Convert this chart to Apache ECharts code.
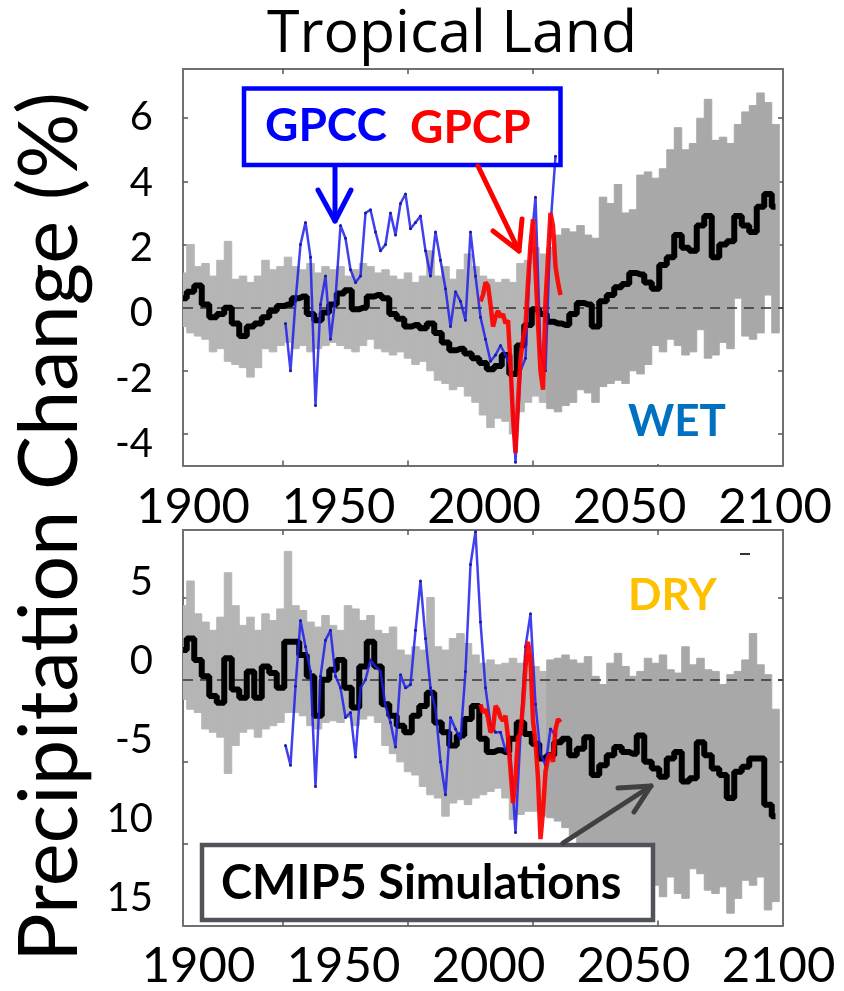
<!DOCTYPE html>
<html>
<head>
<meta charset="utf-8">
<title>Tropical Land</title>
<script src="https://cdn.jsdelivr.net/npm/echarts@6.0.0/dist/echarts.min.js"></script>
<style>
  html, body { margin: 0; padding: 0; background: #fff; }
  #chart { width: 844px; height: 991px; }
</style>
</head>
<body>
<div id="chart"></div>
<script>
const FONT = 'Lato, "Open Sans", sans-serif';

// years: model ensemble every 3rd year, GPCC every 2nd year, GPCP yearly
const modelYears = [];
for (let y = 1860; y <= 2097; y += 3) modelYears.push(y);
const gpccYears = [];
for (let y = 1901; y <= 2009; y += 2) gpccYears.push(y);
const gpcpYears = [];
for (let y = 1979; y <= 2011; y++) gpcpYears.push(y);

// WET panel (%)
const wetMean = [
  0.3, 0.5, 0.7, 0.1, -0.3, -0.2, 0.0, -0.5, -0.9, -0.6,
  -0.5, -0.3, -0.1, 0.05, 0.1, 0.3, 0.35, -0.2, -0.4, -0.15,
  0.1, 0.45, 0.55, -0.05, 0.0, 0.35, 0.4, 0.3, -0.2, -0.35,
  -0.6, -0.55, -0.65, -0.5, -0.8, -1.1, -1.35, -1.3, -1.45, -1.6,
  -1.75, -1.95, -1.85, -1.5, -2.1, -1.2, -0.55, -0.05, -0.2, -0.45,
  -0.5, -0.55, -0.2, 0.15, 0.1, -0.6, 0.2, 0.4, 0.65, 0.75,
  1.1, 1.05, 0.8, 0.6, 1.35, 1.6, 2.3, 1.9, 1.8, 2.6,
  2.9, 1.6, 2.0, 2.1, 2.9, 2.6, 2.4, 3.2, 3.6, 3.2
];
const wetUpper = [
  1.1, 2.0, 1.3, 1.4, 1.0, 1.5, 2.1, 0.9, 1.0, 0.8,
  1.0, 1.5, 1.2, 1.3, 1.6, 1.3, 1.2, 1.4, 1.1, 1.3,
  1.2, 1.3, 1.0, 1.2, 1.4, 1.3, 1.1, 1.2, 1.0, 0.9,
  1.1, 0.8, 1.0, 1.8, 1.0, 1.3, 0.9, 1.2, 1.7, 1.3,
  1.0, 0.9, 0.8, 0.9, 0.8, 1.4, 1.5, 1.9, 1.7, 1.9,
  2.3, 2.5, 2.4, 2.6, 2.3, 2.2, 3.5, 3.3, 3.9, 3.0,
  3.1, 4.2, 4.3, 4.1, 4.4, 5.0, 5.7, 5.0, 5.2, 6.0,
  6.6, 5.3, 5.4, 5.2, 5.8, 6.2, 6.4, 6.8, 6.5, 5.8
];
const wetLower = [
  -0.6, -0.8, -0.9, -1.0, -1.4, -1.3, -1.7, -1.8, -1.9, -2.2,
  -1.9, -1.3, -1.4, -1.2, -1.1, -1.3, -1.2, -1.4, -1.3, -1.2,
  -1.1, -1.2, -1.3, -1.4, -1.2, -1.0, -1.3, -1.4, -1.5, -1.4,
  -1.6, -1.8, -1.7, -2.0, -2.3, -2.4, -2.6, -2.5, -2.8, -3.0,
  -3.4, -3.8, -3.5, -3.6, -4.0, -3.3, -3.0, -2.8, -3.0, -3.2,
  -3.3, -3.1, -3.0, -2.6, -2.7, -3.0, -2.5, -2.4, -2.3, -2.4,
  -2.0, -2.1, -1.8, -1.2, -1.4, -1.0, -1.2, -1.5, -1.4, -0.7,
  -1.6, -1.5, -1.1, -1.3, 0.3, -0.9, -1.0, -0.8, 0.4, -0.8
];
const wetGPCC = [
  -0.5, -2.0, 0.2, 2.0, 2.7, 1.6, -3.1, 0.1, 1.0, -1.0,
  0.3, 2.6, 2.2, 1.2, 0.8, 1.0, 3.0, 3.1, 2.4, 1.8,
  2.0, 3.0, 2.3, 3.3, 3.6, 2.5, 2.7, 2.9, 1.8, 1.0,
  2.4, 1.5, 0.6, -0.6, 0.5, 0.2, -0.4, 2.4, 1.0, -0.3,
  -1.0, -1.7, -1.5, -1.2, -1.5, -1.9, -4.9, -2.0, -1.6, 1.8,
  3.5, -1.4, -2.0, 2.6, 4.8
];
const wetGPCP = [
  0.2, 0.4, 0.8, 0.7, 0.1, -0.6, -0.3, -0.1, -0.3, -0.2,
  -0.5, -0.4, -1.8, -3.5, -4.6, -3.0, -1.6, -1.0, -0.6, 0.8,
  2.0, 2.8, 1.2, -0.5, -2.0, -2.6, 0.2, 1.6, 3.0, 2.6,
  1.3, 0.8, 0.4
];

// DRY panel (%)
const dryMean = [
  1.8, 2.5, 1.2, 0.2, -1.0, -1.4, 1.3, -0.6, -1.1, 0.5,
  -1.1, 0.8, 0.4, -0.5, 2.3, 2.3, 1.5, 0.2, -2.2, 0.0,
  0.6, 1.2, -0.5, -1.7, 0.8, 2.3, 0.8, -1.5, -2.2, -2.8,
  -3.2, -2.2, -1.6, -0.8, -2.6, -3.2, -4.0, -3.4, -2.4, -1.6,
  -3.6, -4.4, -4.3, -4.4, -3.6, -2.6, -3.3, -3.9, -4.8, -4.6,
  -3.8, -3.6, -4.6, -4.2, -3.5, -5.8, -5.2, -4.6, -4.1, -4.4,
  -4.5, -3.4, -5.0, -5.4, -5.9, -4.8, -4.4, -6.2, -6.0, -3.8,
  -4.6, -5.4, -5.8, -7.2, -5.6, -5.3, -4.8, -4.8, -7.6, -8.3
];
const dryUpper = [
  4.5, 6.0, 4.0, 3.5, 3.0, 3.8, 6.5, 4.5, 3.3, 3.8,
  3.0, 4.0, 3.6, 4.3, 7.8, 4.5, 4.2, 3.5, 3.2, 3.9,
  3.3, 3.0, 4.5, 4.3, 3.6, 3.9, 3.0, 2.8, 3.2, 1.8,
  1.5, 2.0, 1.8, 5.0, 2.0, 1.8, 2.5, 2.8, 2.2, 1.5,
  1.0, 1.2, 0.9, 1.0, 1.3, 1.0, 1.5, 0.8, 0.5, 1.2,
  1.3, 1.5, 1.2, 1.0, 1.4, 0.2, -0.3, 1.0, 1.6, 0.8,
  0.2, 0.5, 1.3, 1.0, 1.5, 0.6, 0.4, 2.0, 0.9, 1.3,
  0.6, 0.5, -0.3, 0.3, 0.5, 1.2, 2.8, 0.9, 0.3, -1.8
];
const dryLower = [
  -1.2, -1.8, -2.0, -3.0, -3.2, -3.5, -5.7, -4.0, -3.2, -3.0,
  -3.5, -3.0, -2.8, -2.6, -2.0, -2.0, -2.2, -2.8, -3.0, -2.6,
  -2.5, -2.6, -2.3, -2.8, -2.4, -2.2, -2.6, -4.0, -4.5, -5.0,
  -5.6, -5.8, -6.5, -7.0, -7.2, -8.3, -7.5, -7.3, -7.6, -7.2,
  -7.0, -6.8, -6.6, -7.2, -8.5, -8.2, -8.0, -8.0, -8.3, -8.4,
  -8.6, -9.0, -9.5, -10.0, -10.5, -11.0, -11.0, -11.0, -10.8, -11.0,
  -11.5, -11.3, -11.0, -12.5, -13.2, -12.0, -13.0, -13.3, -11.5, -11.8,
  -12.8, -13.0, -12.6, -14.2, -13.3, -12.2, -12.5, -12.0, -14.0, -13.5
];
const dryGPCC = [
  -4.0, -5.2, -0.4, 3.6, 2.0, 0.5, -6.5, 0.2, 2.4, 3.0,
  0.2, -0.5, -2.3, -2.0, -4.7, -0.5, 0.0, 1.2, 0.8, 0.5,
  -1.6, -2.6, -4.1, 0.3, -0.5, -0.3, 3.0, 6.0, 2.5, -0.5,
  -1.8, -5.0, -7.0, -2.3, -3.0, -3.6, 0.5, 7.0, 9.0, 3.5,
  -0.5, -2.7, -3.2, -3.2, -4.3, -4.6, -9.3, -3.3, 2.0, 4.0,
  -1.5, -4.5, -5.2, -3.0, -3.4
];
const dryGPCP = [
  -1.5, -2.0, -1.8, -2.3, -3.2, -3.0, -1.6, -1.8, -2.3, -2.5,
  -2.2, -3.5, -5.5, -7.5, -6.0, -3.5, -3.3, -1.5, 0.8, 2.3,
  1.2, -2.5, -3.8, -6.0, -9.7, -8.0, -5.6, -4.8, -4.5, -5.0,
  -3.0, -2.4, -2.6
];

// ticks on the frame
const xTickYears = [1900, 1950, 2000, 2050];
const wetTicks = [-4, -2, 0, 2, 4, 6];
const dryTicks = [5, 0, -5, -10];

function pairs(xs, ys) {
  return ys.map((v, i) => [xs[i], v]);
}

const frameLine = { show: true, onZero: false, lineStyle: { color: '#707070', width: 2 } };
const tickStyle = { color: '#555', width: 1.5 };

function frameX(grid, pos) {
  return {
    type: 'value', gridIndex: grid, position: pos, min: 1860, max: 2100,
    axisLine: frameLine,
    axisTick: { show: true, inside: true, length: 5, customValues: xTickYears, lineStyle: tickStyle },
    axisLabel: { show: false },
    splitLine: { show: false }
  };
}
function frameY(grid, pos, min, max, ticks) {
  return {
    type: 'value', gridIndex: grid, position: pos, min: min, max: max,
    axisLine: frameLine,
    axisTick: { show: true, inside: true, length: 5, customValues: ticks, lineStyle: tickStyle },
    axisLabel: { show: false },
    splitLine: { show: false }
  };
}
function labelX(grid, margin) {
  return {
    type: 'value', gridIndex: grid, position: 'bottom', min: 1900, max: 2100, interval: 50,
    axisLine: { show: false, onZero: false }, axisTick: { show: false }, splitLine: { show: false },
    axisLabel: { margin: margin, fontSize: 49, fontFamily: FONT, color: '#000', formatter: v => String(v) }
  };
}
function labelY(grid, min, max, step, margin, fmt) {
  return {
    type: 'value', gridIndex: grid, position: 'left', min: min, max: max, interval: step,
    axisLine: { show: false, onZero: false }, axisTick: { show: false }, splitLine: { show: false },
    axisLabel: { margin: margin, fontSize: 40, fontFamily: FONT, color: '#000', formatter: fmt }
  };
}

// one grey column per model year, from the ensemble low to high value
function bandItem(params, api) {
  const yr = api.value(0);
  const top = api.coord([yr - 1.5, api.value(2)]);
  const bot = api.coord([yr + 1.5, api.value(1)]);
  const grey = yr < 2006 ? '#b5b5b5' : '#a8a8a8';
  return {
    type: 'rect',
    shape: { x: top[0], y: top[1], width: bot[0] - top[0], height: bot[1] - top[1] },
    style: { fill: grey, stroke: grey, lineWidth: 1 }
  };
}

function panelSeries(key, xi, yi, mean, upper, lower, gpcc, gpcp) {
  return [
    {
      name: key + ' CMIP5 range', type: 'custom', xAxisIndex: xi, yAxisIndex: yi,
      renderItem: bandItem, clip: true, z: 1,
      encode: { x: 0, y: [1, 2] },
      data: modelYears.map((yr, i) => [yr, lower[i], upper[i]]),
      markLine: {
        silent: true, symbol: 'none', z: 3, label: { show: false },
        lineStyle: { color: '#333', width: 1.5, type: [10, 7] },
        data: [{ yAxis: 0 }]
      }
    },
    {
      name: key + ' CMIP5 mean', type: 'line', xAxisIndex: xi, yAxisIndex: yi,
      step: 'middle', symbol: 'none', z: 6,
      lineStyle: { color: '#000', width: 6 },
      data: pairs(modelYears, mean)
    },
    {
      name: key + ' GPCC', type: 'line', xAxisIndex: xi, yAxisIndex: yi,
      symbol: 'circle', symbolSize: 3, z: 7,
      itemStyle: { color: '#1a1aa0' },
      lineStyle: { color: 'rgba(30,30,235,0.85)', width: 2.5 },
      data: pairs(gpccYears, gpcc)
    },
    {
      name: key + ' GPCP', type: 'line', xAxisIndex: xi, yAxisIndex: yi,
      symbol: 'none', z: 8,
      lineStyle: { color: 'rgba(255,0,0,0.92)', width: 4.5 },
      data: pairs(gpcpYears, gpcp)
    }
  ];
}

function txt(x, y, text, size, color, weight, family, align) {
  return {
    type: 'text', x: x, y: y, z: 100,
    style: {
      text: text, fontSize: size, fontFamily: family || FONT, fontWeight: weight || 'normal', fill: color,
      align: align || 'left', verticalAlign: 'middle',
      textAlign: align || 'left', textVerticalAlign: 'middle'
    }
  };
}
function seg(points, color) {
  return {
    type: 'polyline', z: 100,
    shape: { points: points },
    style: { stroke: color, lineWidth: 5, fill: null, lineCap: 'round', lineJoin: 'round' }
  };
}

const chart = echarts.init(document.getElementById('chart'), null, { renderer: 'canvas' });
chart.setOption({
  animation: false,
  backgroundColor: '#fff',
  grid: [
    { left: 183, right: 61, top: 69, bottom: 525.5 },
    { left: 193, right: 69, top: 117.5, bottom: 546.8 },
    { left: 183, right: 61, top: 530, bottom: 65.5 },
    { left: 198.5, right: 65.5, top: 581.7, bottom: 83 }
  ],
  xAxis: [
    frameX(0, 'bottom'), frameX(0, 'top'), labelX(1, 39),
    frameX(2, 'bottom'), frameX(2, 'top'), labelX(3, 44)
  ],
  yAxis: [
    frameY(0, 'left', -5, 7.56, wetTicks), frameY(0, 'right', -5, 7.56, wetTicks),
    labelY(1, -4, 6, 2, 40, v => String(v)),
    frameY(2, 'left', -14.95, 9.1, dryTicks), frameY(2, 'right', -14.95, 9.1, dryTicks),
    labelY(3, -15, 5, 5, 45.5, v => (v <= -10 ? String(-v) : String(v)))
  ],
  series: [].concat(
    panelSeries('wet', 0, 0, wetMean, wetUpper, wetLower, wetGPCC, wetGPCP),
    panelSeries('dry', 3, 3, dryMean, dryUpper, dryLower, dryGPCC, dryGPCP)
  ),
  graphic: [
    txt(452, 35, 'Tropical Land', 59, '#000', 'normal', '"Open Sans", Lato, sans-serif', 'center'),
    {
      type: 'text', x: 51, y: 527, rotation: Math.PI / 2, z: 100,
      style: {
        text: 'Precipitation Change (%)', fontSize: 81, fontFamily: FONT, fill: '#000',
        align: 'center', verticalAlign: 'middle', textAlign: 'center', textVerticalAlign: 'middle'
      }
    },
    // GPCC / GPCP call-out
    {
      type: 'rect', z: 100,
      shape: { x: 244, y: 88.5, width: 316.5, height: 76.5 },
      style: { fill: null, stroke: '#0000ff', lineWidth: 4.5 }
    },
    txt(265, 126, 'GPCC', 46, '#0000ff', 'bold'),
    txt(410, 128, 'GPCP', 46, '#ff0000', 'bold'),
    seg([[335, 166], [335, 221]], '#0000ff'),
    seg([[318, 190], [335, 221], [351, 190]], '#0000ff'),
    seg([[478, 166], [519, 251]], '#ff0000'),
    seg([[493, 231], [519, 251], [522, 219]], '#ff0000'),
    // WET / DRY
    {
      type: 'rect', z: 90,
      shape: { x: 640, y: 381, width: 87, height: 83 },
      style: { fill: '#fff' }
    },
    txt(628, 422, 'WET', 44, '#0070c0', 'bold'),
    txt(628, 596, 'DRY', 44, '#ffc000', 'bold'),
    {
      type: 'line', z: 100,
      shape: { x1: 740, y1: 554, x2: 750, y2: 554 },
      style: { stroke: '#333', lineWidth: 2 }
    },
    // CMIP5 call-out
    {
      type: 'rect', z: 100,
      shape: { x: 202, y: 845, width: 451, height: 75 },
      style: { fill: '#fff', stroke: '#505459', lineWidth: 4.5 }
    },
    txt(221, 884, 'CMIP5 Simulations', 47, '#000', 'bold'),
    seg([[563, 843], [651, 786]], '#404040'),
    seg([[618, 788], [651, 786], [634, 812]], '#404040')
  ]
});
</script>
</body>
</html>
